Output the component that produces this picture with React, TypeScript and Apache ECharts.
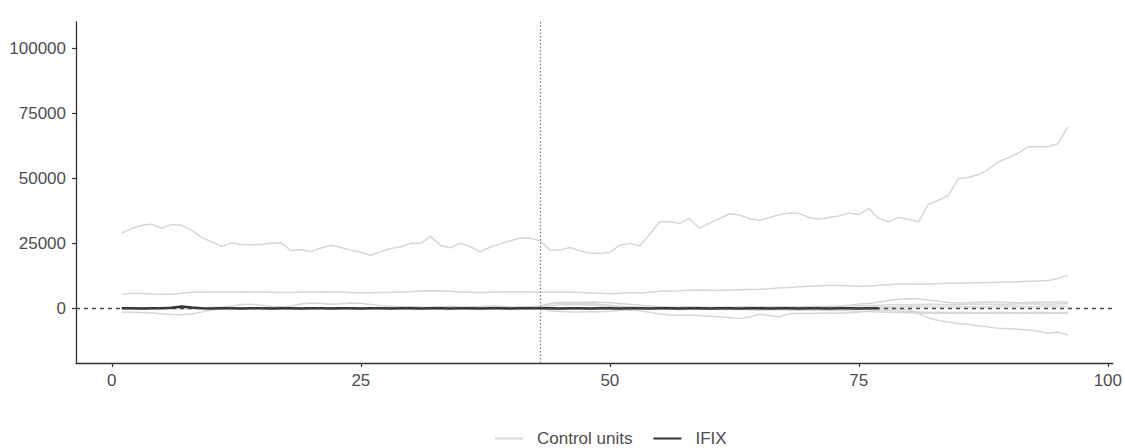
import React, { useEffect, useRef } from "react";
import * as echarts from "echarts";

const PERIODS = [
  1, 2, 3, 4, 5, 6, 7, 8, 9, 10, 11, 12, 13, 14, 15, 16, 17, 18, 19, 20,
  21, 22, 23, 24, 25, 26, 27, 28, 29, 30, 31, 32, 33, 34, 35, 36, 37, 38, 39, 40,
  41, 42, 43, 44, 45, 46, 47, 48, 49, 50, 51, 52, 53, 54, 55, 56, 57, 58, 59, 60,
  61, 62, 63, 64, 65, 66, 67, 68, 69, 70, 71, 72, 73, 74, 75, 76, 77, 78, 79, 80,
  81, 82, 83, 84, 85, 86, 87, 88, 89, 90, 91, 92, 93, 94, 95, 96,
];

const CONTROL_A = [
  29000, 30700, 32000, 32400, 30800, 32300, 32000, 30000, 27300, 25600,
  23900, 25100, 24600, 24500, 24600, 25000, 25200, 22200, 22600, 21800,
  23200, 24300, 23400, 22400, 21600, 20400, 21800, 23000, 23700, 25000,
  25000, 27700, 24200, 23300, 25100, 23700, 21700, 23600, 24800, 26000,
  27100, 27000, 26000, 22400, 22400, 23400, 22100, 21300, 21100, 21500,
  24300, 25000, 24000, 28500, 33300, 33300, 32700, 34600, 30800, 32800,
  34500, 36400, 35900, 34500, 33900, 35000, 36000, 36700, 36500, 35000,
  34300, 35000, 35500, 36700, 36100, 38400, 34600, 33300, 35000, 34200,
  33300, 40100, 41600, 43500, 50000, 50400, 51500, 53500, 56400, 58000,
  59800, 62200, 62200, 62200, 63500, 70000,
];

const CONTROL_B = [
  5400, 5700, 5700, 5500, 5400, 5400, 5800, 6200, 6200, 6300,
  6300, 6300, 6400, 6300, 6300, 6200, 6100, 6100, 6200, 6300,
  6400, 6300, 6300, 6100, 6000, 6000, 6100, 6100, 6300, 6400,
  6600, 6700, 6600, 6500, 6300, 6200, 6100, 6200, 6300, 6400,
  6400, 6300, 6200, 6200, 6300, 6200, 6100, 5900, 5800, 5600,
  5800, 6100, 5900, 6200, 6500, 6600, 6700, 6900, 7000, 6900,
  6800, 7000, 7100, 7200, 7300, 7500, 7800, 8000, 8300, 8500,
  8700, 8800, 8800, 8700, 8500, 8600, 8900, 9100, 9300, 9300,
  9200, 9300, 9500, 9600, 9600, 9700, 9800, 9900, 10000, 10100,
  10200, 10400, 10500, 10700, 11500, 12700,
];

const CONTROL_C = [
  0, -100, -200, -100, 0, 100, 0, -100, 0, 100,
  200, 100, 0, -100, 0, 100, 200, 100, 0, -100,
  0, 100, 0, -100, -200, -100, 0, 100, 0, -100,
  0, 100, 200, 100, 0, -100, 0, 100, 0, -100,
  0, 100, 0, -1000, -1300, -1400, -1400, -1300, -1400, -1200,
  -800, -700, -900, -1500, -2200, -2600, -2700, -2600, -2800, -3100,
  -3300, -3600, -4000, -3400, -2300, -2800, -3300, -2100, -1900, -2000,
  -1900, -1800, -1900, -1700, -1500, -1000, -800, -900, -1100, -1300,
  -1400, -1500, -1500, -1600, -1500, -1600, -1700, -1600, -1500, -1600,
  -1700, -1600, -1500, -1600, -1700, -1600,
];

const CONTROL_D = [
  100, 0, -100, 0, 100, 0, -100, 0, 100, 200,
  100, 0, -100, 0, 100, 0, -100, -200, -100, 0,
  100, 0, -100, 0, 100, 0, -100, 0, 100, 0,
  -100, 0, 100, 0, -100, 0, 100, 0, -100, 0,
  100, 0, 200, 300, 200, 100, 0, 100, 200, 100,
  0, -100, 0, 100, 0, -100, 0, 100, 0, -100,
  0, 100, 0, -100, 0, 100, 0, -100, 0, 100,
  0, -100, 0, -200, -100, -300, -200, -100, -300, -500,
  -2000, -3800, -4700, -5300, -5900, -6300, -6700, -7200, -7700, -7900,
  -8100, -8400, -8900, -9600, -9200, -10300,
];

const CONTROL_E = [
  0, 0, 100, 200, 100, 0, 0, 100, 200, 300,
  500, 900, 1400, 1500, 1200, 700, 500, 900, 1600, 2000,
  1800, 1500, 1700, 2000, 1900, 1400, 1000, 800, 600, 700,
  500, 400, 600, 800, 600, 500, 700, 900, 800, 600,
  500, 700, 900, 1800, 2200, 2300, 2200, 2400, 2300, 2100,
  1800, 1500, 1200, 900, 700, 500, 400, 600, 500, 400,
  300, 400, 500, 300, 400, 600, 500, 400, 600, 700,
  800, 700, 900, 1200, 1600, 1800, 2400, 3000, 3500, 3700,
  3600, 3200, 2700, 2200, 2000, 2100, 2300, 2400, 2300, 2200,
  2100, 2200, 2300, 2400, 2400, 2300,
];

const CONTROL_F = [
  -1400, -1500, -1600, -1800, -2100, -2400, -2500, -2200, -1500, -700,
  -200, 0, 100, 0, -100, 0, 100, 0, -100, 0,
  100, 0, -100, 0, 100, 200, 100, 0, -100, 0,
  100, 0, -100, 0, 100, 0, -100, 0, 100, 0,
  -100, 0, 100, 1000, 1300, 1400, 1300, 1200, 1000, 800,
  500, 200, 0, -200, -300, -400, -500, -400, -300, -500,
  -600, -500, -400, -600, -700, -600, -500, -700, -800, -700,
  -800, -900, -800, -1000, -1200, -1300, -1400, -1500, -1600, -1700,
  -1800, -1900, -1800, -1900, -2000, -1900, -1800, -1900, -2000, -1900,
  -1800, -1900, -2000, -1900, -1800, -1900,
];

const CONTROL_G = [
  0, 100, 0, -100, 0, 100, 0, -100, 0, 100,
  0, -100, 0, 100, 0, -100, 0, 100, 0, -100,
  0, 100, 0, -100, 0, 100, 0, -100, 0, 100,
  0, -100, 0, 100, 0, -100, 0, 100, 0, -100,
  0, 100, 300, 1700, 2000, 1900, 1800, 1700, 1500, 1200,
  900, 600, 400, 300, 200, 300, 400, 300, 200, 300,
  400, 300, 400, 500, 400, 300, 400, 500, 600, 500,
  600, 700, 800, 900, 1000, 1100, 1200, 1300, 1400, 1300,
  1400, 1500, 1400, 1300, 1400, 1500, 1600, 1500, 1400, 1500,
  1600, 1700, 1600, 1500, 1600, 1700,
];

const CONTROL_H = [
  -200, -100, 0, 100, 0, -100, -200, -100, 0, 100,
  0, -100, 0, 100, 200, 100, 0, -100, 0, 100,
  0, -100, 0, 100, 0, -100, 0, 100, 0, -100,
  0, 100, 0, -100, 0, 100, 0, -100, 0, 100,
  0, -100, 0, -400, -500, -400, -300, -400, -500, -400,
  -300, -200, -100, 0, 100, 0, -100, 0, 100, 0,
  -100, 0, 100, 0, -100, 0, 100, 0, -100, 0,
  100, 200, 300, 200, 300, 400, 500, 600, 500, 600,
  700, 600, 500, 600, 700, 600, 500, 600, 700, 800,
  700, 600, 700, 800, 700, 600,
];

const IFIX_PERIODS = [
  1, 2, 3, 4, 5, 6, 7, 8, 9, 10, 11, 12, 13, 14, 15, 16, 17, 18, 19, 20,
  21, 22, 23, 24, 25, 26, 27, 28, 29, 30, 31, 32, 33, 34, 35, 36, 37, 38, 39, 40,
  41, 42, 43, 44, 45, 46, 47, 48, 49, 50, 51, 52, 53, 54, 55, 56, 57, 58, 59, 60,
  61, 62, 63, 64, 65, 66, 67, 68, 69, 70, 71, 72, 73, 74, 75, 76, 77,
];

const IFIX = [
  0, 0, -100, 0, 0, 200, 700, 300, 0, -100,
  0, 0, -100, 0, 0, -100, 0, 0, -100, 0,
  0, -100, 0, 0, -100, 0, 0, -100, 0, 0,
  -100, 0, 0, -100, 0, 0, -100, 0, 0, -100,
  0, 0, 0, 0, -100, 0, 0, -100, 0, 0,
  -100, 0, 0, -100, 0, 0, -100, 0, 0, -100,
  0, 0, -100, 0, 0, -100, 0, 0, -100, 0,
  0, -100, 0, 0, -100, 0, 0,
];

const CONTROLS = [CONTROL_A, CONTROL_B, CONTROL_C, CONTROL_D, CONTROL_E, CONTROL_F, CONTROL_G, CONTROL_H];

const X_TICKS = [0, 25, 50, 75, 100];
const Y_TICKS = [0, 25000, 50000, 75000, 100000];
const TREATMENT_START = 43;
const REFERENCE_LEVEL = 0;
const LEGEND_ITEMS = ["Control units", "IFIX"];

const pair = (xs: number[], ys: number[]) => xs.map((x, i) => [x, ys[i]]);

export default function App() {
  const ref = useRef<HTMLDivElement>(null);
  useEffect(() => {
    if (!ref.current) return;
    const chart = echarts.init(ref.current, undefined, { renderer: "svg" });
    const font = "Liberation Sans, Arial, sans-serif";
    const controlSeries = CONTROLS.map((vals) => ({
      name: LEGEND_ITEMS[0],
      type: "line",
      data: pair(PERIODS, vals),
      showSymbol: false,
      symbol: "none",
      silent: true,
      lineStyle: { color: "#d7d7d7", width: 1.5 },
      itemStyle: { color: "#d7d7d7" },
      z: 2,
    }));
    chart.setOption({
      animation: false,
      backgroundColor: "#ffffff",
      grid: { left: 76, right: 8, top: 22, bottom: 85, containLabel: false },
      legend: {
        data: LEGEND_ITEMS,
        left: 490,
        top: 425,
        icon: "rect",
        itemWidth: 28,
        itemHeight: 2,
        itemGap: 21,
        textStyle: { fontSize: 17, color: "#4d4d4d", fontFamily: font, padding: [0, 0, 0, 9] },
      },
      xAxis: {
        type: "value",
        min: -3.6,
        max: 100.5,
        splitLine: { show: false },
        axisLine: { show: true, onZero: false, lineStyle: { color: "#333333", width: 1.3 } },
        axisTick: { show: true, length: 4, customValues: X_TICKS, lineStyle: { color: "#333333", width: 1.2 } },
        axisLabel: { customValues: X_TICKS, fontSize: 17, color: "#4d4d4d", fontFamily: font, margin: 9 },
      },
      yAxis: {
        type: "value",
        min: -21100,
        max: 110300,
        splitLine: { show: false },
        axisLine: { show: true, onZero: false, lineStyle: { color: "#333333", width: 1.3 } },
        axisTick: { show: true, length: 4, customValues: Y_TICKS, lineStyle: { color: "#333333", width: 1.2 } },
        axisLabel: {
          customValues: Y_TICKS,
          fontSize: 17,
          color: "#4d4d4d",
          fontFamily: font,
          margin: 10,
          formatter: (v: number) => String(v),
        },
      },
      series: [
        ...controlSeries,
        {
          name: LEGEND_ITEMS[1],
          type: "line",
          data: pair(IFIX_PERIODS, IFIX),
          showSymbol: false,
          symbol: "none",
          silent: true,
          lineStyle: { color: "#333333", width: 2.6 },
          itemStyle: { color: "#333333" },
          z: 3,
          markLine: {
            silent: true,
            symbol: "none",
            label: { show: false },
            data: [
              { xAxis: TREATMENT_START, lineStyle: { type: [1.5, 2], color: "#777777", width: 1.2 } },
              { yAxis: REFERENCE_LEVEL, lineStyle: { type: [4, 4], color: "#444444", width: 1.3 } },
            ],
          },
        },
      ],
    });
    return () => chart.dispose();
  }, []);
  return (
    <div
      ref={ref}
      style={{ position: "fixed", left: 0, top: 0, width: 1125, height: 448, background: "#fff" }}
    />
  );
}
